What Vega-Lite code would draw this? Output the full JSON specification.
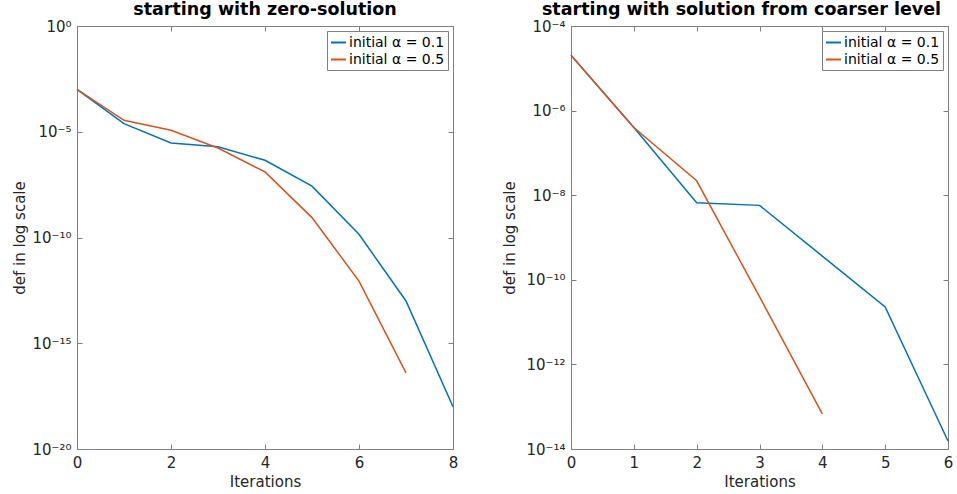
{
  "$schema": "https://vega.github.io/schema/vega-lite/v6.json",
  "autosize": {"type": "pad"},
  "padding": {"left": 12, "top": 0, "right": 0, "bottom": 0},
  "background": "white",
  "spacing": 118,
  "bounds": "flush",
  "config": {
    "font": "DejaVu Sans",
    "view": {"stroke": "#808080", "strokeWidth": 1},
    "axis": {
      "domainColor": "#808080",
      "tickColor": "#808080",
      "labelColor": "#262626",
      "titleColor": "#262626",
      "labelFont": "DejaVu Sans",
      "labelFontSize": 15,
      "titleFontSize": 15,
      "titleFontWeight": "normal",
      "grid": false,
      "tickSize": -5,
      "labelPadding": 11,
      "labelFlush": false
    },
    "title": {"fontSize": 17.5, "fontWeight": "bold", "color": "#000000", "offset": 1},
    "legend": {
      "orient": "top-right",
      "offset": 5,
      "fillColor": "white",
      "strokeColor": "#808080",
      "padding": 3,
      "labelOffset": 2,
      "labelFontSize": 14,
      "labelColor": "#000000",
      "symbolType": "stroke",
      "symbolSize": 225,
      "symbolStrokeWidth": 2,
      "rowPadding": 1,
      "title": null
    }
  },
  "datasets": {
    "left": [
      {"iter": 0, "def": 1.0e-3, "series": "initial α = 0.1"},
      {"iter": 1, "def": 2.40e-5, "series": "initial α = 0.1"},
      {"iter": 2, "def": 2.95e-6, "series": "initial α = 0.1"},
      {"iter": 3, "def": 1.95e-6, "series": "initial α = 0.1"},
      {"iter": 4, "def": 4.47e-7, "series": "initial α = 0.1"},
      {"iter": 5, "def": 2.69e-8, "series": "initial α = 0.1"},
      {"iter": 6, "def": 1.41e-10, "series": "initial α = 0.1"},
      {"iter": 7, "def": 1.0e-13, "series": "initial α = 0.1"},
      {"iter": 8, "def": 1.0e-18, "series": "initial α = 0.1"},
      {"iter": 0, "def": 1.0e-3, "series": "initial α = 0.5"},
      {"iter": 1, "def": 3.47e-5, "series": "initial α = 0.5"},
      {"iter": 2, "def": 1.17e-5, "series": "initial α = 0.5"},
      {"iter": 3, "def": 1.70e-6, "series": "initial α = 0.5"},
      {"iter": 4, "def": 1.26e-7, "series": "initial α = 0.5"},
      {"iter": 5, "def": 8.71e-10, "series": "initial α = 0.5"},
      {"iter": 6, "def": 8.71e-13, "series": "initial α = 0.5"},
      {"iter": 7, "def": 3.98e-17, "series": "initial α = 0.5"}
    ],
    "right": [
      {"iter": 0, "def": 2.04e-5, "series": "initial α = 0.1"},
      {"iter": 1, "def": 3.98e-7, "series": "initial α = 0.1"},
      {"iter": 2, "def": 6.61e-9, "series": "initial α = 0.1"},
      {"iter": 3, "def": 5.75e-9, "series": "initial α = 0.1"},
      {"iter": 4, "def": 3.63e-10, "series": "initial α = 0.1"},
      {"iter": 5, "def": 2.29e-11, "series": "initial α = 0.1"},
      {"iter": 6, "def": 1.55e-14, "series": "initial α = 0.1"},
      {"iter": 0, "def": 2.04e-5, "series": "initial α = 0.5"},
      {"iter": 1, "def": 3.98e-7, "series": "initial α = 0.5"},
      {"iter": 2, "def": 2.19e-8, "series": "initial α = 0.5"},
      {"iter": 3, "def": 3.98e-11, "series": "initial α = 0.5"},
      {"iter": 4, "def": 6.76e-14, "series": "initial α = 0.5"}
    ]
  },
  "hconcat": [
    {
      "width": 376,
      "height": 423,
      "title": {"text": "starting with zero-solution"},
      "data": {"name": "left"},
      "layer": [
        {
          "mark": {"type": "line", "strokeWidth": 1.5},
          "encoding": {
            "x": {"field": "iter", "type": "quantitative", "scale": {"domain": [0, 8], "nice": false},
                  "axis": {"title": "Iterations", "values": [0, 2, 4, 6, 8], "titlePadding": 4}},
            "y": {"field": "def", "type": "quantitative", "scale": {"type": "log", "domain": [1e-20, 1], "nice": false},
                  "axis": {"title": "def in log scale", "values": [1, 1e-5, 1e-10, 1e-15, 1e-20], "titlePadding": 4,
                           "labelExpr": "'10' + (datum.value < 0.5 ? '⁻' : '') + (abs(round(log(datum.value)/LN10)) >= 10 ? ['⁰','¹','²','³','⁴','⁵','⁶','⁷','⁸','⁹'][floor(abs(round(log(datum.value)/LN10))/10)] : '') + ['⁰','¹','²','³','⁴','⁵','⁶','⁷','⁸','⁹'][abs(round(log(datum.value)/LN10)) % 10]"}},
            "color": {"field": "series", "type": "nominal",
                      "scale": {"domain": ["initial α = 0.1", "initial α = 0.5"], "range": ["#0072BD", "#D95319"]}}
          }
        },
        {
          "mark": {"type": "line", "opacity": 0},
          "encoding": {
            "x": {"field": "iter", "type": "quantitative",
                  "axis": {"orient": "top", "title": null, "labels": false, "domain": false, "values": [0, 2, 4, 6, 8]}},
            "y": {"field": "def", "type": "quantitative",
                  "axis": {"orient": "right", "title": null, "labels": false, "domain": false, "values": [1, 1e-5, 1e-10, 1e-15, 1e-20]}},
            "detail": {"field": "series"}
          }
        }
      ],
      "resolve": {"axis": {"x": "independent", "y": "independent"}}
    },
    {
      "width": 377,
      "height": 423,
      "title": {"text": "starting with solution from coarser level", "dx": -18},
      "data": {"name": "right"},
      "layer": [
        {
          "mark": {"type": "line", "strokeWidth": 1.5},
          "encoding": {
            "x": {"field": "iter", "type": "quantitative", "scale": {"domain": [0, 6], "nice": false},
                  "axis": {"title": "Iterations", "values": [0, 1, 2, 3, 4, 5, 6], "titlePadding": 4}},
            "y": {"field": "def", "type": "quantitative", "scale": {"type": "log", "domain": [1e-14, 1e-4], "nice": false},
                  "axis": {"title": "def in log scale", "values": [1e-4, 1e-6, 1e-8, 1e-10, 1e-12, 1e-14], "titlePadding": 8,
                           "labelExpr": "'10' + (datum.value < 0.5 ? '⁻' : '') + (abs(round(log(datum.value)/LN10)) >= 10 ? ['⁰','¹','²','³','⁴','⁵','⁶','⁷','⁸','⁹'][floor(abs(round(log(datum.value)/LN10))/10)] : '') + ['⁰','¹','²','³','⁴','⁵','⁶','⁷','⁸','⁹'][abs(round(log(datum.value)/LN10)) % 10]"}},
            "color": {"field": "series", "type": "nominal",
                      "scale": {"domain": ["initial α = 0.1", "initial α = 0.5"], "range": ["#0072BD", "#D95319"]}}
          }
        },
        {
          "mark": {"type": "line", "opacity": 0},
          "encoding": {
            "x": {"field": "iter", "type": "quantitative",
                  "axis": {"orient": "top", "title": null, "labels": false, "domain": false, "values": [0, 1, 2, 3, 4, 5, 6]}},
            "y": {"field": "def", "type": "quantitative",
                  "axis": {"orient": "right", "title": null, "labels": false, "domain": false, "values": [1e-4, 1e-6, 1e-8, 1e-10, 1e-12, 1e-14]}},
            "detail": {"field": "series"}
          }
        }
      ],
      "resolve": {"axis": {"x": "independent", "y": "independent"}}
    }
  ],
  "resolve": {"scale": {"color": "independent"}, "legend": {"color": "independent"}}
}
